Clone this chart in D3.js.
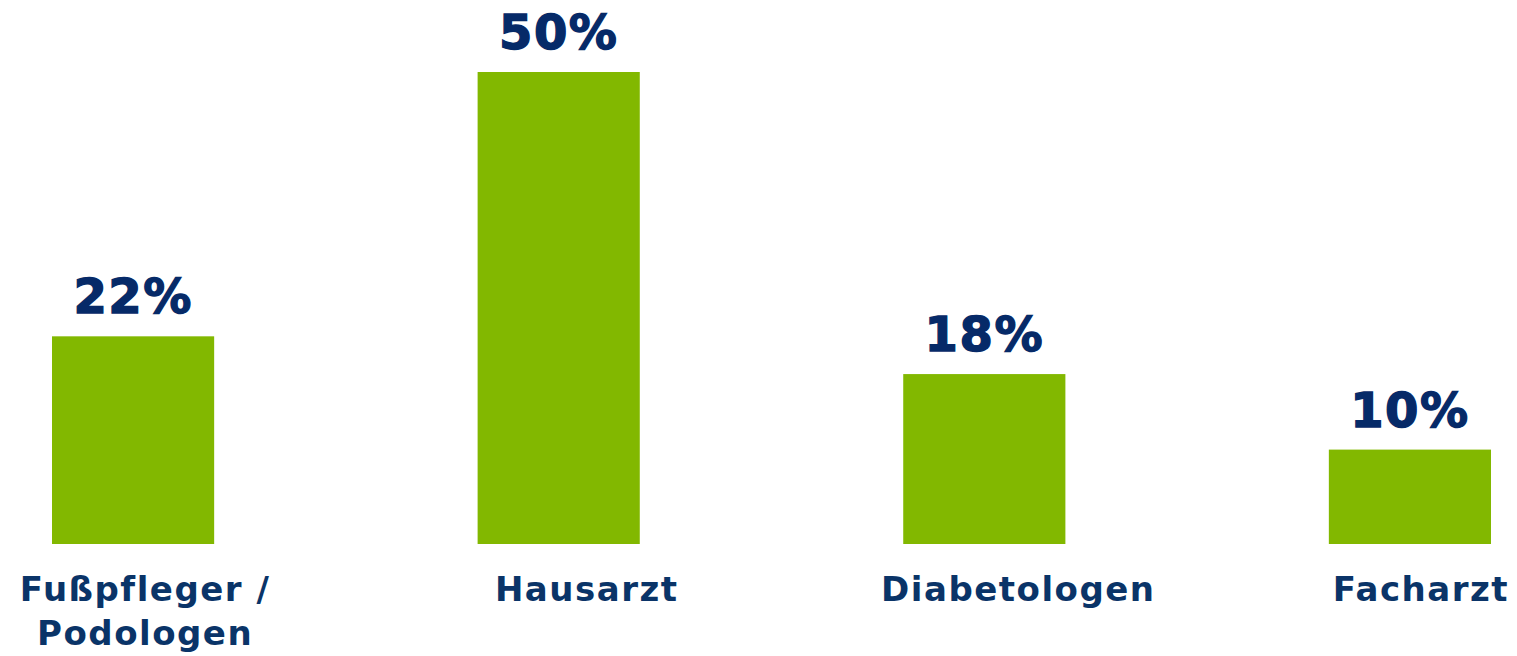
<!DOCTYPE html>
<html>
<head>
<meta charset="utf-8">
<script src="https://cdn.jsdelivr.net/npm/d3@7"></script>
<style>
  body { margin: 0; background: #fff; }
</style>
</head>
<body>
<script>
var categories = [['Fußpfleger /', 'Podologen'], ['Hausarzt'], ['Diabetologen'], ['Facharzt']];
var values = [22, 50, 18, 10];
var valueLabels = ['22%', '50%', '18%', '10%'];

// small horizontal nudges of category labels, as in the original slide
var labelDx = [12, 28, 34, 11];

var screen = { width: 1517, height: 656 };
var svg = d3.select('body')
            .append('svg')
            .attr('width', screen.width)
            .attr('height', screen.height);

var idx = d3.range(values.length);
var xScale = d3.scaleBand()
               .domain(idx)
               .range([52, 1491])
               .paddingInner(0.619)
               .paddingOuter(0);
var yScale = d3.scaleLinear()
               .domain([0, 50])
               .range([544, 72]);

svg.append('g')
   .selectAll('rect')
   .data(values)
   .enter()
   .append('rect')
   .attr('x', function(d, i){ return xScale(i); })
   .attr('y', function(d){ return yScale(d); })
   .attr('width', xScale.bandwidth())
   .attr('height', function(d){ return yScale(0) - yScale(d); })
   .attr('fill', '#82b800');

svg.append('g')
   .selectAll('text')
   .data(values)
   .enter()
   .append('text')
   .attr('x', function(d, i){ return xScale(i) + xScale.bandwidth() / 2; })
   .attr('y', function(d){ return yScale(d) - 23; })
   .attr('text-anchor', 'middle')
   .attr('font-family', 'DejaVu Sans')
   .attr('font-weight', 'bold')
   .attr('font-size', 48)
   .attr('letter-spacing', 1.5)
   .attr('fill', '#062a68')
   .attr('stroke', '#062a68')
   .attr('stroke-width', 1.4)
   .text(function(d, i){ return valueLabels[i]; });

var cats = svg.append('g')
   .selectAll('text')
   .data(categories)
   .enter()
   .append('text')
   .attr('x', function(d, i){ return xScale(i) + xScale.bandwidth() / 2 + labelDx[i]; })
   .attr('y', 601)
   .attr('text-anchor', 'middle')
   .attr('font-family', 'DejaVu Sans')
   .attr('font-weight', 'bold')
   .attr('font-size', 34)
   .attr('letter-spacing', 1.5)
   .attr('fill', '#0a3468');

cats.each(function(d, i){
  var t = d3.select(this);
  var cx = xScale(i) + xScale.bandwidth() / 2 + labelDx[i];
  d.forEach(function(line, j){
    t.append('tspan')
     .attr('x', cx)
     .attr('dy', j === 0 ? 0 : 44)
     .text(line);
  });
});
</script>
</body>
</html>
